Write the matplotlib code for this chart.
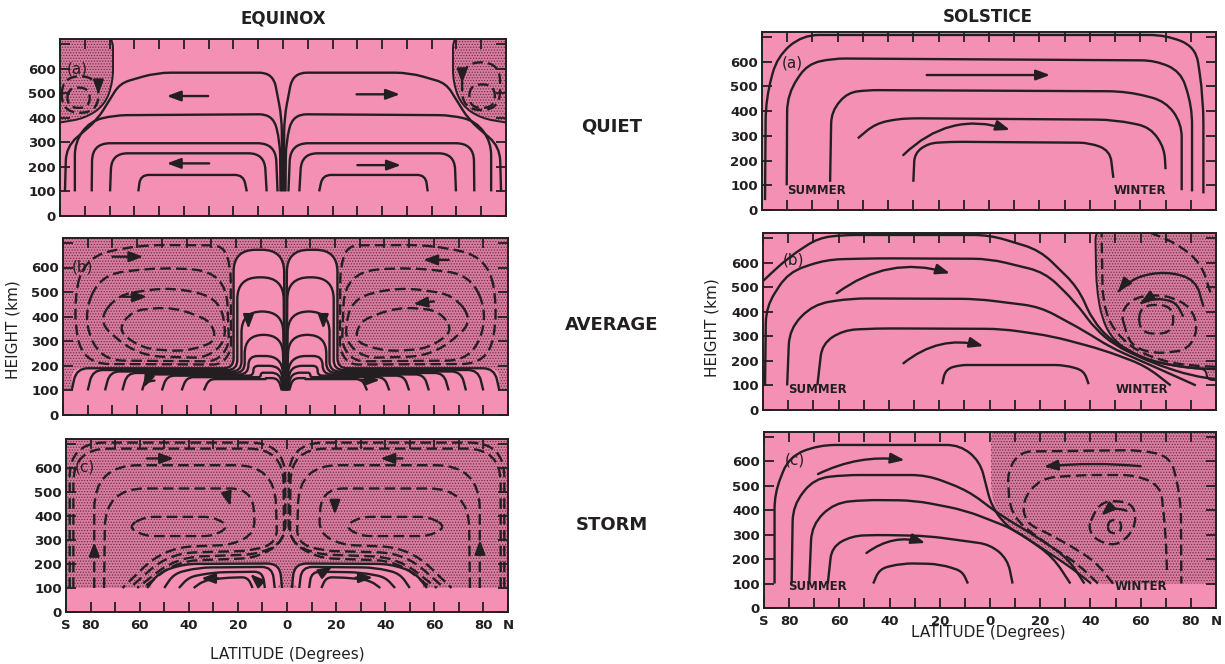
import numpy as np
import matplotlib
matplotlib.use("Agg")
import matplotlib.pyplot as plt
from matplotlib.path import Path
from matplotlib.patches import PathPatch

plt.rcParams['font.family'] = ['DejaVu Sans']
plt.rcParams['hatch.linewidth'] = 0.55
plt.rcParams['hatch.color'] = '#6a2c46'

PINK = '#F390B3'
STIP = '#D87C9E'
DOT = '#6a2c46'
INK = '#231f20'
DASH = (0, (4.5, 2.2))

# ---------------- axis data ----------------
lat_ticks = list(range(-90, 91, 10))
lat_names = {-90: 'S', -80: '80', -60: '60', -40: '40', -20: '20', 0: '0',
             20: '20', 40: '40', 60: '60', 80: '80', 90: 'N'}
z_ticks = list(range(0, 701, 100))
z_names = ['0', '100', '200', '300', '400', '500', '600', '']

# ---------------- EQUINOX QUIET (a) ----------------
# (style, corner radius, closed, [(lat, height[, radius]) ...])  -- southern half, mirrored north
eqq_south = [
    ('s', 14, False, [(-58.4, 100), (-57.5, 167), (-16, 167), (-14.6, 100)]),
    ('s', 16, False, [(-69.8, 100), (-69.2, 255), (-7.5, 255), (-6.6, 100)]),
    ('s', 18, False, [(-77.2, 100), (-77, 296), (-3, 296), (-2.2, 100)]),
    ('s', 14, False, [(-84, 100), (-84, 300), (-78, 385), (-68, 410), (-4, 414), (-1.2, 300), (-1.0, 100)]),
    ('s', 14, False, [(-88, 100), (-87.5, 282), (-75, 391), (-70, 472), (-65.8, 540), (-51, 583),
                      (-4, 583), (-0.5, 400), (-0.4, 100)]),
]
eqq_polar_south = [
    ('d', 60, True, [(-89.3, 420), (-89.3, 568), (-74.5, 568), (-74.5, 420)]),
    ('d', 60, True, [(-87, 440), (-87, 522), (-78, 522), (-78, 440)]),
]
eqq_polar_north = [
    ('d', 60, True, [(72.3, 431), (72.3, 625), (87.6, 625), (87.6, 431)]),
    ('d', 60, True, [(75.2, 440), (75.2, 535), (85.5, 535), (85.5, 440)]),
]
eqq_stipple_south = [(-95, 740), (-68.6, 740), (-68.6, 545), (-72, 450), (-80, 397), (-95, 372)]
eqq_arrows = [(-30.2, 488, -46.9, 488, 0), (29.7, 495, 47.2, 495, 0),
              (-29.8, 214, -46.9, 214, 0), (30, 207, 47.6, 207, 0),
              (-74.5, 530, -74.5, 495, 0), (72.3, 575, 72.3, 540, 0)]

# ---------------- EQUINOX AVERAGE (b) ----------------
eqb_cells_south = [
    ('d', 60, True, [(-68, 345), (-62, 425), (-45, 441), (-30, 380), (-28, 300), (-40, 258), (-58, 270)]),
    ('d', 60, True, [(-76, 380), (-68, 490), (-45, 522), (-26, 470), (-24, 300), (-32, 232), (-60, 240)]),
    ('d', 50, True, [(-82, 400), (-75, 570), (-50, 603), (-24, 580), (-22.8, 280), (-28, 218), (-75, 222)]),
    ('d', 30, True, [(-86, 420), (-82, 640), (-60, 692), (-25, 690), (-22.2, 600), (-22, 260), (-26, 205), (-82, 208)]),
]
# band/finger streamlines: foot lat, band height, finger lat, arch top, equator lat
eqb_foot = [-86.5, -80, -73, -66, -58, -50, -42, -33]
eqb_band = [190, 183, 177, 171, 165, 160, 154, 146]
eqb_finger = [-21.0, -19.5, -17.8, -16.5, -15, -13, -10, -8]
eqb_top = [672, 560, 421, 326, 240, 200, 172, 150]
eqb_equator = [-0.6, -0.8, -1.0, -1.2, -1.4, -1.7, -2.2, -3.0]
eqb_stipple = [(-95, 100), (-86.5, 100, 6), (-86.5, 190, 10), (-21, 190, 8), (-21, 672, 22), (-1, 672, 22),
               (0, 393, 6), (1, 672, 22), (21, 672, 22), (21, 190, 8), (86.5, 190, 10), (86.5, 100, 6),
               (95, 100), (95, 745), (-95, 745)]
eqb_arrows = [(-70, 644, -57.5, 644, 0), (-66, 481, -56, 481, 0), (66, 631, 55.7, 631, 0),
              (60, 462, 51.7, 452, 0), (-15, 400, -15, 350, 0), (15.3, 400, 15.3, 350, 0),
              (-53, 140, -57.5, 110, 0.3), (30, 142, 38.2, 142, 0)]

# ---------------- EQUINOX STORM (c) ----------------
eqc_south = [
    ('d', 35, False, [(-88.5, 100), (-88.5, 705), (-0.8, 705), (-0.6, 300), (-12, 225), (-45, 212), (-58.5, 100)]),
    ('d', 35, False, [(-87.0, 100), (-87.0, 680), (-1.5, 680), (-1.2, 290), (-12, 240), (-45, 228), (-61, 100)]),
    ('d', 45, False, [(-78.5, 100), (-78.5, 611), (-5, 611), (-4, 290), (-14, 255), (-48, 245), (-64, 100)]),
    ('d', 40, False, [(-74.5, 100), (-74, 514), (-14, 514), (-13, 330), (-22, 280), (-50, 268), (-67, 100)]),
    ('d', 40, True, [(-65, 355), (-58, 396), (-30, 396), (-23.3, 356), (-30, 316), (-58, 316)]),
    ('s', 20, False, [(-57, 100), (-52, 165), (-42, 200), (-3, 202), (-2, 100)]),
    ('s', 18, False, [(-50, 100), (-46, 160), (-36, 185), (-6, 188), (-5, 100)]),
    ('s', 16, False, [(-44, 100), (-40, 145), (-30, 165), (-10, 168), (-9, 100)]),
    ('s', 14, False, [(-38, 100), (-34, 130), (-26, 142), (-16, 145), (-14, 100)]),
]
eqc_dome_south = [(-57, 95), (-52, 165, 20), (-42, 200, 20), (-3, 202, 10), (-2, 95)]
eqc_arrows = [(-57, 639, -46, 639, 0), (-24, 475, -23, 440, 0), (-78.5, 250, -78.5, 292, 0),
              (47, 639, 38, 639, 0), (19.5, 445, 19.5, 405, 0), (78.6, 255, 78.6, 300, 0),
              (-28, 140, -35, 140, 0), (-12, 130, -15, 158, 0), (28, 143, 35, 143, 0), (15, 168, 18.5, 190, 0)]

# ---------------- SOLSTICE QUIET (a) ----------------
sola_lines = [
    ('s', 25, False, [(-88.8, 40), (-88.5, 450), (-84, 620), (-74, 708), (70, 708), (82, 660), (85, 450), (85, 67)]),
    ('s', 25, False, [(-80.2, 100), (-80, 470), (-72, 590), (-62, 613), (66, 605), (76, 560), (80.5, 420), (80.5, 75)]),
    ('s', 25, False, [(-63, 114), (-62.5, 400), (-56, 475), (-48, 485), (55, 480), (70, 440), (76.4, 350), (76.4, 80)]),
    ('s', 25, False, [(-52, 290), (-45, 350), (-36, 368), (-30, 371), (50, 365), (64, 335), (69.5, 250), (70, 165)]),
    ('s', 25, False, [(-30, 114), (-29.5, 230), (-24, 270), (-15, 276), (40, 272), (48, 240), (49.3, 130)]),
]
sola_arrows = [(-24.7, 546, 24.2, 546, 0), (-34, 222, 8.3, 324, -0.3)]

# ---------------- SOLSTICE AVERAGE (b) ----------------
solb_lines = [
    ('s', 16, False, [(-90.5, 520), (-80, 620), (-68, 700), (-58, 712), (0, 712), (20, 650), (35, 500), (41, 365),
                      (48, 285), (62, 205), (78, 172), (92, 165)]),
    ('s', 16, False, [(-89.2, 100), (-88.8, 420), (-80, 560), (-65, 612), (-45, 617), (0, 615), (22, 560),
                      (34, 440), (42, 330), (50, 262), (65, 190), (80, 140), (92, 122)]),
    ('s', 16, False, [(-80.4, 100), (-79.5, 330), (-70, 430), (-55, 454), (-5, 452), (20, 420), (38, 320),
                      (48, 255), (65, 178), (82, 100)]),
    ('s', 16, False, [(-68.4, 100), (-66.5, 270), (-58, 325), (-45, 332), (5, 330), (25, 300), (45, 245),
                      (62, 180), (72, 100)]),
    ('s', 16, False, [(-18.8, 105), (-17.5, 165), (-12, 183), (30, 183), (37.5, 160), (39.4, 105)]),
    ('d', 60, True, [(59.5, 311), (59.5, 427), (73, 427), (73, 311)]),
    ('d', 40, True, [(52, 400), (56, 260), (66, 228), (79, 245), (83, 330), (80, 420), (70, 470), (58, 460)]),
    ('d', 20, False, [(44.5, 745), (45, 450), (48, 345), (56, 255), (68, 200), (80, 180), (92, 175)]),
    ('d', 30, False, [(58, 745), (74, 680), (84, 600), (88, 470)]),
    ('s', 30, False, [(85, 420), (82, 530), (70, 565), (58, 540), (51, 481)]),
    ('s', 30, False, [(77, 380), (74, 440), (66, 455), (60, 434)]),
]
solb_stipple = [(42, 745), (42.5, 500), (44.5, 380), (48, 300), (55, 240), (65, 195), (78, 172), (86, 166),
                (86.5, 122), (95, 122), (95, 745)]
solb_arrows = [(-60.7, 475, -15.7, 556, -0.25), (-34.2, 190, -2.4, 260, -0.25),
               (53, 505, 51, 481, 0), (61.5, 445, 59.8, 434, 0)]

# ---------------- SOLSTICE STORM (c) ----------------
solc_lines = [
    ('s', 16, False, [(-85.8, 100), (-85.8, 470), (-80, 620), (-68, 667), (-12, 667), (-4, 600), (0.5, 420),
                      (6, 340), (20, 250), (33, 160), (40.3, 100)]),
    ('s', 16, False, [(-79, 100), (-78.5, 420), (-70, 530), (-58, 544), (-25, 544), (-8.8, 480), (4.5, 377),
                      (17.7, 297), (31, 204), (37.6, 100)]),
    ('s', 16, False, [(-72, 100), (-71, 340), (-62, 430), (-50, 442), (-30, 440), (-10, 400), (10, 320),
                      (25, 210), (32, 100)]),
    ('s', 16, False, [(-64.6, 100), (-63, 250), (-55, 295), (-45, 299), (-25, 295), (0, 260), (7, 200), (9, 100)]),
    ('s', 16, False, [(-46.5, 100), (-44, 160), (-35, 183), (-20, 180), (-11, 150), (-8.8, 100)]),
    ('d', 22, False, [(43, 100), (35, 180), (20, 280), (8, 380), (7, 560), (12, 640), (60, 646), (72, 620),
                      (76, 450), (76.2, 100)]),
    ('d', 25, False, [(49, 100), (42, 190), (28, 280), (14, 350), (13, 440), (20, 530), (35, 544), (58, 544),
                      (68, 500), (70, 300), (70.5, 140)]),
    ('d', 40, True, [(39, 330), (44, 442), (57.6, 430), (58, 320), (50, 251), (42, 280)]),
    ('d', 60, True, [(47, 306), (47, 360), (52.2, 360), (52.2, 306)]),
]
solc_stipple = [(0.4, 745), (0.4, 470), (3, 380), (10, 320), (22, 245), (34, 160), (41, 100), (95, 100), (95, 745)]
solc_arrows = [(-68.5, 548, -34, 605, -0.15), (-49.2, 225, -25.8, 266, -0.25),
               (60, 580, 21.4, 578, 0.05), (54.3, 398, 44.3, 378, 0.3)]

# ---------------- helpers ----------------
SX, SZ = 446 / 180.0, 177 / 720.0


def rounded(verts, r, closed):
    P = np.array([(v[0] * SX, v[1] * SZ) for v in verts], float)
    rad = [v[2] if len(v) > 2 else r for v in verts]
    n = len(P)

    def corner(i):
        a, b, c = P[(i - 1) % n], P[i], P[(i + 1) % n]
        d1 = np.hypot(*(a - b)); d2 = np.hypot(*(c - b))
        cut = min(rad[i], d1 / 2, d2 / 2)
        return b + (a - b) / d1 * cut, b, b + (c - b) / d2 * cut

    V, C = [], []
    if closed:
        A0, K0, B0 = corner(0)
        V.append(B0); C.append(Path.MOVETO)
        for i in range(1, n):
            A, K, B = corner(i)
            V += [A, K, B]; C += [Path.LINETO, Path.CURVE3, Path.CURVE3]
        V += [A0, K0, B0, B0]; C += [Path.LINETO, Path.CURVE3, Path.CURVE3, Path.CLOSEPOLY]
    else:
        V.append(P[0]); C.append(Path.MOVETO)
        for i in range(1, n - 1):
            A, K, B = corner(i)
            V += [A, K, B]; C += [Path.LINETO, Path.CURVE3, Path.CURVE3]
        V.append(P[-1]); C.append(Path.LINETO)
    V = np.array(V) / [SX, SZ]
    return Path(V, C)


def mirror(lines):
    out = []
    for st, r, cl, verts in lines:
        out.append((st, r, cl, [(-v[0],) + tuple(v[1:]) for v in verts]))
    return out


def mirror_pts(verts):
    return [(-v[0],) + tuple(v[1:]) for v in verts][::-1]


def draw_lines(ax, lines):
    for st, r, cl, verts in lines:
        ax.add_patch(PathPatch(rounded(verts, r, cl), fill=False, edgecolor=INK, lw=1.7,
                               linestyle='-' if st == 's' else DASH, capstyle='butt',
                               joinstyle='round', zorder=3))


def stipple(ax, verts, r=12, outline=False):
    p = rounded(verts, r, True)
    ax.add_patch(PathPatch(p, facecolor=STIP, edgecolor=DOT, hatch='......', lw=0, zorder=1))
    if outline:
        ax.add_patch(PathPatch(p, fill=False, edgecolor=INK, lw=1.4, zorder=2))


def pink(ax, verts, r=12):
    ax.add_patch(PathPatch(rounded(verts, r, True), facecolor=PINK, lw=0, zorder=1.5))


def arrows(ax, lst):
    for x0, z0, x1, z1, rad in lst:
        ax.annotate('', xy=(x1, z1), xytext=(x0, z0),
                    arrowprops=dict(arrowstyle='-|>,head_length=0.75,head_width=0.28', lw=1.7,
                                    color=INK, shrinkA=0, shrinkB=0, mutation_scale=11,
                                    connectionstyle='arc3,rad=%s' % rad), zorder=4)


def setup(ax, bottom):
    ax.set_xlim(-90, 90)
    ax.set_ylim(0, 720)
    ax.set_facecolor(PINK)
    ax.set_xticks(lat_ticks)
    ax.set_xticklabels([lat_names.get(t, '') for t in lat_ticks] if bottom else [])
    ax.set_yticks(z_ticks)
    ax.set_yticklabels(z_names)
    ax.tick_params(axis='both', direction='in', length=7, width=1.3, color=INK, top=True, right=True,
                   labelsize=9.5, labelcolor=INK)
    ax.tick_params(axis='x', pad=5)
    ax.tick_params(axis='y', pad=3)
    for lab in ax.get_xticklabels() + ax.get_yticklabels():
        lab.set_fontweight('bold')
    for s in ax.spines.values():
        s.set_linewidth(1.4)
        s.set_color(INK)
        s.set_zorder(5)


def label(ax, x, z, t):
    ax.text(x, z, t, ha='center', va='center', fontsize=11, color=INK, zorder=6)


def season(ax, xs, xw, z):
    ax.text(xs, z, 'SUMMER', ha='left', va='center', fontsize=8.5, fontweight='bold', color=INK, zorder=6)
    ax.text(xw, z, 'WINTER', ha='left', va='center', fontsize=8.5, fontweight='bold', color=INK, zorder=6)


W, H = 1225.0, 664.0


def box(x0, y0, x1, y1):
    return [x0 / W, 1 - y1 / H, (x1 - x0) / W, (y1 - y0) / H]


fig = plt.figure(figsize=(12.25, 6.64), dpi=100)
fig.patch.set_facecolor('white')

axA = fig.add_axes(box(60, 39, 506, 216))
axB = fig.add_axes(box(63, 238, 508, 415))
axC = fig.add_axes(box(66, 439, 508, 612))
axD = fig.add_axes(box(762, 32, 1216, 210))
axE = fig.add_axes(box(763, 233, 1216, 410))
axF = fig.add_axes(box(764, 432, 1216, 608))

for ax, b in [(axA, False), (axB, False), (axC, True), (axD, False), (axE, False), (axF, True)]:
    setup(ax, b)

# Equinox quiet
stipple(axA, eqq_stipple_south, 14, outline=True)
stipple(axA, mirror_pts(eqq_stipple_south), 14, outline=True)
draw_lines(axA, eqq_south)
draw_lines(axA, mirror(eqq_south))
draw_lines(axA, eqq_polar_south)
draw_lines(axA, eqq_polar_north)
arrows(axA, eqq_arrows)
label(axA, -83, 598, '(a)')

# Equinox average
stipple(axB, eqb_stipple, 12)
band_lines = []
for b, h, f, t, e in zip(eqb_foot, eqb_band, eqb_finger, eqb_top, eqb_equator):
    band_lines.append(('s', 12, False, [(b, 100), (b + 2, h, 20), (f, h, 10), (f, t, 22), (e, t, 22), (e * 0.5, 100)]))
draw_lines(axB, band_lines)
draw_lines(axB, mirror(band_lines))
draw_lines(axB, eqb_cells_south)
draw_lines(axB, mirror(eqb_cells_south))
arrows(axB, eqb_arrows)
label(axB, -82, 603, '(b)')

# Equinox storm
stipple(axC, [(-95, 100), (95, 100), (95, 745), (-95, 745)], 0)
pink(axC, eqc_dome_south, 14)
pink(axC, mirror_pts(eqc_dome_south), 14)
draw_lines(axC, eqc_south)
draw_lines(axC, mirror(eqc_south))
arrows(axC, eqc_arrows)
label(axC, -82.3, 605, '(c)')

# Solstice quiet
draw_lines(axD, sola_lines)
arrows(axD, sola_arrows)
label(axD, -78, 593, '(a)')
season(axD, -80, 49.6, 80)

# Solstice average
stipple(axE, solb_stipple, 14, outline=True)
draw_lines(axE, solb_lines)
arrows(axE, solb_arrows)
label(axE, -78, 612, '(b)')
season(axE, -80, 50, 85)

# Solstice storm
stipple(axF, solc_stipple, 14, outline=False)
draw_lines(axF, solc_lines)
arrows(axF, solc_arrows)
label(axF, -77.7, 605, '(c)')
season(axF, -80.3, 49.8, 86)

# texts
fig.text(283 / W, 1 - 18 / H, 'EQUINOX', ha='center', va='center', fontsize=12, fontweight='bold', color=INK)
fig.text(988 / W, 1 - 17 / H, 'SOLSTICE', ha='center', va='center', fontsize=12, fontweight='bold', color=INK)
for t, y in [('QUIET', 127), ('AVERAGE', 325), ('STORM', 525)]:
    fig.text(612 / W, 1 - y / H, t, ha='center', va='center', fontsize=13, fontweight='bold', color=INK)
fig.text(287 / W, 1 - 654 / H, 'LATITUDE (Degrees)', ha='center', va='center', fontsize=11, color=INK)
fig.text(988 / W, 1 - 633 / H, 'LATITUDE (Degrees)', ha='center', va='center', fontsize=11, color=INK)
fig.text(13 / W, 1 - 330 / H, 'HEIGHT (km)', ha='center', va='center', rotation=90, fontsize=11, color=INK)
fig.text(712 / W, 1 - 328 / H, 'HEIGHT (km)', ha='center', va='center', rotation=90, fontsize=11, color=INK)

fig.savefig('out.png', dpi=100, facecolor='white')
